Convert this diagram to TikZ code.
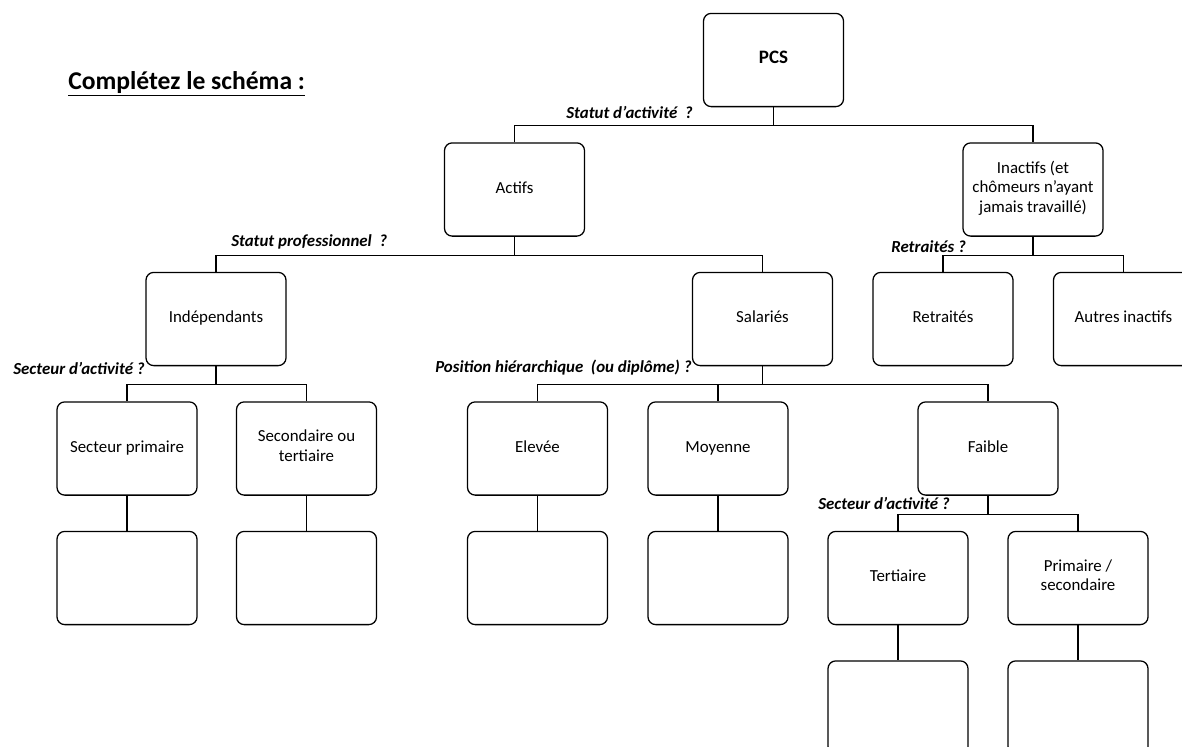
\documentclass[tikz,border=0pt]{standalone}
\usepackage{fontspec}
\setmainfont{Carlito}
\usetikzlibrary{positioning}

\tikzset{
  box/.style={draw, rounded corners=5.5pt, line width=0.9pt, minimum width=3.5cm, minimum height=2.33cm,
    align=center, font=\fontsize{12}{13.8}\selectfont,
    execute at begin node=\strut, execute at end node=\strut},
  question/.style={inner sep=0pt, font=\fontsize{12}{14}\selectfont\bfseries\itshape},
  link/.style={line width=0.9pt}
}

\begin{document}
\begin{tikzpicture}[x=0.025cm,y=-0.025cm]
\useasboundingbox (0,0) rectangle (1182,746);

\node[anchor=base west, inner sep=0pt, font=\fontsize{18.2}{20}\selectfont\bfseries] (titre) at (68,89) {\underline{Complétez le schéma :}};

% niveau 0 et 1
\node[box] (pcs) at (773.5,60) {\fontsize{13.5}{15}\selectfont\bfseries PCS};
\node[box] (actifs) at (514.5,189.5) {Actifs};
\node[box] (inactifs) at (1033,189.5) {Inactifs (et\\chômeurs n’ayant\\jamais travaillé)};

% niveau 2
\node[box] (indep) at (216,319) {Indépendants};
\node[box] (salaries) at (762.5,319) {Salariés};
\node[box] (retraites) at (943,319) {Retraités};
\node[box] (autres) at (1123.5,319) {Autres inactifs};

% niveau 3
\node[box] (primaire) at (127,448.5) {Secteur primaire};
\node[box] (secondaire) at (306.5,448.5) {Secondaire ou\\tertiaire};
\node[box] (elevee) at (537.5,448.5) {Elevée};
\node[box] (moyenne) at (718,448.5) {Moyenne};
\node[box] (faible) at (988,448.5) {Faible};

% niveau 4
\node[box] (primaireVide) at (127,578) {};
\node[box] (secondaireVide) at (306.5,578) {};
\node[box] (eleveeVide) at (537.5,578) {};
\node[box] (moyenneVide) at (718,578) {};
\node[box] (tertiaire) at (898,578) {Tertiaire};
\node[box] (primsec) at (1078,578) {Primaire /\\secondaire};

% niveau 5
\node[box] (tertiaireVide) at (898,707.5) {};
\node[box] (primsecVide) at (1078,707.5) {};

% questions
\node[question, anchor=east] (qActivite) at (693,112) {Statut d’activité\ \ ?};
\node[question, anchor=west] (qPro) at (231,242) {Statut professionnel\ \ ?};
\node[question, anchor=west] (qRetraite) at (891,247) {Retraités ?};
\node[question, anchor=west] (qSecteurA) at (13,368) {Secteur d’activité ?};
\node[question, anchor=west] (qPosition) at (435,368) {Position hiérarchique\ \ (ou diplôme) ?};
\node[question, anchor=west] (qSecteurB) at (818,503) {Secteur d’activité ?};

% liaisons
\draw[link] (pcs.south) -- ++(0,18.5) -| (actifs.north);
\draw[link] (pcs.south) -- ++(0,18.5) -| (inactifs.north);

\draw[link] (actifs.south) -- ++(0,18.5) -| (indep.north);
\draw[link] (actifs.south) -- ++(0,18.5) -| (salaries.north);

\draw[link] (inactifs.south) -- ++(0,18.5) -| (retraites.north);
\draw[link] (inactifs.south) -- ++(0,18.5) -| (autres.north);

\draw[link] (indep.south) -- ++(0,18.5) -| (primaire.north);
\draw[link] (indep.south) -- ++(0,18.5) -| (secondaire.north);

\draw[link] (salaries.south) -- ++(0,18.5) -| (elevee.north);
\draw[link] (salaries.south) -- ++(0,18.5) -| (moyenne.north);
\draw[link] (salaries.south) -- ++(0,18.5) -| (faible.north);

\draw[link] (faible.south) -- ++(0,18.5) -| (tertiaire.north);
\draw[link] (faible.south) -- ++(0,18.5) -| (primsec.north);

\draw[link] (primaire) -- (primaireVide);
\draw[link] (secondaire) -- (secondaireVide);
\draw[link] (elevee) -- (eleveeVide);
\draw[link] (moyenne) -- (moyenneVide);
\draw[link] (tertiaire) -- (tertiaireVide);
\draw[link] (primsec) -- (primsecVide);
\end{tikzpicture}
\end{document}
